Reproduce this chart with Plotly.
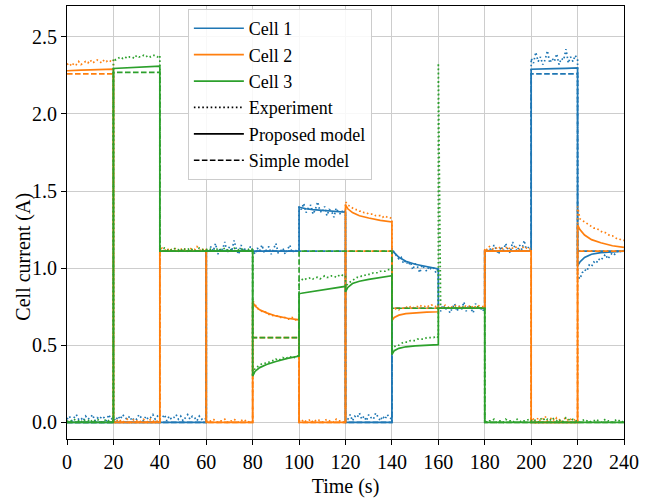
import plotly.graph_objects as go

# ---------------- data ----------------
seg_starts = [0, 20, 40, 60, 80, 100, 120, 140, 160, 180, 200, 220]
seg_len = 20
exp_offsets = list(range(21))          # experiment sampled every 1 s in each 20 s step
model_offsets = [0, 1, 3, 6, 10, 15, 20]  # points

cells = ["Cell 1", "Cell 2", "Cell 3"]
colors = ["#1f77b4", "#ff7f0e", "#2ca02c"]

# Experiment (per 20 s segment, 21 samples)
exp_cell1 = [
    [0.02,0.04,0.01,0.03,0.05,0.02,0.03,0.01,0.04,0.02,0.03,0.05,0.01,0.03,0.02,0.04,0.03,0.01,0.05,0.02,0.03],
    [0.03,0.01,0.04,0.02,0.05,0.03,0.02,0.04,0.01,0.03,0.02,0.05,0.03,0.01,0.04,0.02,0.03,0.05,0.02,0.04,0.02],
    [0.02,0.03,0.05,0.01,0.04,0.02,0.03,0.05,0.02,0.04,0.01,0.03,0.05,0.02,0.04,0.03,0.01,0.04,0.02,0.03,0.02],
    [1.12,1.10,1.14,1.11,1.16,1.09,1.13,1.12,1.17,1.10,1.14,1.11,1.18,1.12,1.09,1.15,1.11,1.13,1.10,1.14,1.12],
    [1.12,1.09,1.13,1.11,1.15,1.10,1.12,1.14,1.09,1.12,1.16,1.10,1.11,1.13,1.09,1.12,1.15,1.10,1.12,1.11,1.12],
    [1.40,1.38,1.42,1.36,1.39,1.41,1.35,1.38,1.43,1.37,1.36,1.40,1.34,1.38,1.37,1.33,1.39,1.36,1.35,1.38,1.36],
    [0.03,0.02,0.05,0.01,0.04,0.03,0.06,0.02,0.04,0.01,0.05,0.03,0.02,0.06,0.03,0.01,0.04,0.02,0.05,0.03,0.02],
    [1.13,1.10,1.08,1.06,1.07,1.03,1.05,1.02,1.04,0.99,1.03,1.01,0.97,1.02,1.00,0.98,1.01,0.99,1.00,0.97,1.00],
    [0.74,0.72,0.76,0.73,0.75,0.71,0.74,0.77,0.72,0.75,0.73,0.78,0.72,0.76,0.74,0.71,0.77,0.73,0.75,0.72,0.74],
    [1.12,1.10,1.13,1.11,1.15,1.12,1.09,1.14,1.11,1.16,1.12,1.10,1.17,1.13,1.11,1.15,1.12,1.18,1.11,1.14,1.12],
    [2.36,2.33,2.40,2.34,2.37,2.32,2.35,2.41,2.33,2.36,2.34,2.39,2.32,2.36,2.35,2.42,2.33,2.37,2.34,2.38,2.35],
    [0.95,0.93,0.97,0.99,0.98,1.02,1.01,1.04,1.03,1.06,1.05,1.07,1.09,1.06,1.08,1.10,1.09,1.11,1.10,1.12,1.11],
]
exp_cell2 = [
    [2.32,2.33,2.31,2.33,2.32,2.34,2.32,2.33,2.34,2.33,2.35,2.33,2.34,2.35,2.34,2.33,2.35,2.34,2.35,2.34,2.35],
    [0.01,0.00,0.02,0.01,0.00,0.01,0.02,0.00,0.01,0.02,0.01,0.00,0.01,0.02,0.01,0.00,0.02,0.01,0.00,0.01,0.01],
    [1.12,1.13,1.12,1.11,1.13,1.12,1.12,1.13,1.11,1.12,1.13,1.12,1.11,1.13,1.12,1.12,1.14,1.12,1.11,1.13,1.12],
    [0.01,0.00,0.01,0.02,0.01,0.00,0.01,0.01,0.02,0.00,0.01,0.01,0.02,0.01,0.00,0.01,0.02,0.01,0.00,0.01,0.01],
    [0.79,0.76,0.74,0.73,0.72,0.72,0.71,0.70,0.70,0.69,0.69,0.69,0.68,0.68,0.68,0.67,0.67,0.68,0.67,0.66,0.665],
    [0.01,0.02,0.00,0.01,0.01,0.02,0.00,0.01,0.02,0.01,0.00,0.01,0.02,0.01,0.01,0.00,0.02,0.01,0.01,0.00,0.01],
    [1.43,1.41,1.40,1.39,1.38,1.38,1.37,1.37,1.36,1.36,1.35,1.35,1.35,1.34,1.34,1.34,1.33,1.34,1.33,1.33,1.32],
    [0.73,0.73,0.74,0.73,0.74,0.74,0.75,0.74,0.75,0.74,0.75,0.75,0.76,0.75,0.75,0.76,0.75,0.76,0.76,0.75,0.76],
    [0.75,0.74,0.75,0.76,0.75,0.74,0.75,0.76,0.75,0.75,0.74,0.76,0.75,0.75,0.76,0.74,0.75,0.76,0.75,0.75,0.75],
    [1.13,1.12,1.14,1.13,1.12,1.13,1.14,1.12,1.13,1.13,1.14,1.12,1.13,1.14,1.13,1.12,1.13,1.14,1.13,1.12,1.13],
    [0.01,0.02,0.00,0.03,0.01,0.02,0.04,0.01,0.02,0.03,0.01,0.03,0.02,0.00,0.02,0.03,0.01,0.02,0.01,0.02,0.01],
    [1.40,1.32,1.31,1.30,1.29,1.28,1.27,1.26,1.26,1.25,1.24,1.23,1.23,1.22,1.21,1.21,1.20,1.19,1.19,1.18,1.18],
]
exp_cell3 = [
    [0.01,0.00,0.01,0.02,0.01,0.01,0.00,0.02,0.01,0.01,0.02,0.00,0.01,0.02,0.01,0.00,0.01,0.02,0.01,0.01,0.01],
    [2.36,2.35,2.36,2.37,2.36,2.37,2.36,2.37,2.37,2.36,2.38,2.37,2.37,2.38,2.37,2.38,2.37,2.38,2.38,2.37,2.38],
    [1.12,1.12,1.13,1.12,1.11,1.12,1.13,1.12,1.12,1.11,1.13,1.12,1.12,1.13,1.12,1.11,1.12,1.13,1.12,1.12,1.12],
    [1.12,1.13,1.12,1.12,1.11,1.13,1.12,1.12,1.13,1.12,1.11,1.12,1.13,1.12,1.12,1.13,1.11,1.12,1.12,1.13,1.12],
    [0.30,0.35,0.36,0.37,0.38,0.38,0.39,0.39,0.40,0.40,0.41,0.40,0.41,0.42,0.41,0.42,0.42,0.43,0.42,0.43,0.435],
    [0.92,0.93,0.92,0.93,0.93,0.94,0.93,0.94,0.94,0.93,0.94,0.95,0.94,0.94,0.95,0.95,0.94,0.95,0.96,0.95,0.95],
    [0.88,0.90,0.91,0.92,0.93,0.94,0.94,0.95,0.95,0.96,0.96,0.96,0.97,0.97,0.97,0.98,0.98,0.98,0.99,0.99,0.99],
    [0.47,0.49,0.50,0.50,0.51,0.52,0.52,0.52,0.53,0.53,0.53,0.54,0.54,0.54,0.54,0.55,0.55,0.55,0.55,0.56,0.55],
    [2.33,0.74,0.75,0.74,0.74,0.75,0.74,0.74,0.75,0.74,0.74,0.75,0.74,0.74,0.75,0.74,0.74,0.75,0.74,0.74,0.74],
    [0.01,0.00,0.01,0.01,0.02,0.00,0.01,0.01,0.00,0.02,0.01,0.01,0.00,0.01,0.02,0.01,0.00,0.01,0.01,0.02,0.01],
    [0.01,0.02,0.01,0.00,0.02,0.03,0.01,0.02,0.01,0.03,0.02,0.01,0.02,0.00,0.01,0.03,0.02,0.01,0.02,0.01,0.01],
    [0.01,0.00,0.01,0.02,0.01,0.00,0.01,0.01,0.02,0.01,0.00,0.01,0.02,0.01,0.01,0.00,0.01,0.02,0.01,0.00,0.01],
]

# Proposed model (values at model_offsets within each segment)
prop_cell1 = [
    [0]*7, [0]*7, [0]*7,
    [1.11]*7, [1.11]*7,
    [1.395,1.39,1.385,1.38,1.375,1.368,1.363],
    [0]*7,
    [1.12,1.10,1.07,1.045,1.025,1.01,0.995],
    [0.74]*7, [1.11]*7,
    [2.29,2.29,2.29,2.292,2.294,2.296,2.298],
    [1.015,1.04,1.07,1.09,1.10,1.107,1.11],
]
prop_cell2 = [
    [2.28,2.28,2.282,2.284,2.286,2.288,2.29],
    [0]*7, [1.11]*7, [0]*7,
    [0.78,0.755,0.73,0.71,0.69,0.675,0.665],
    [0]*7,
    [1.41,1.385,1.36,1.34,1.325,1.31,1.30],
    [0.66,0.68,0.695,0.705,0.71,0.715,0.717],
    [0.74]*7, [1.11]*7, [0]*7,
    [1.28,1.25,1.215,1.185,1.165,1.145,1.135],
]
prop_cell3 = [
    [0]*7,
    [2.295,2.296,2.298,2.30,2.303,2.306,2.31],
    [1.11]*7, [1.11]*7,
    [0.30,0.33,0.355,0.375,0.395,0.415,0.43],
    [0.835,0.837,0.842,0.85,0.86,0.872,0.882],
    [0.846,0.875,0.90,0.915,0.927,0.94,0.951],
    [0.44,0.465,0.48,0.49,0.496,0.501,0.504],
    [0.74]*7, [0]*7, [0]*7, [0]*7,
]

# Simple model (one constant level per segment)
simple_cell1 = [0, 0, 0, 1.11, 1.11, 1.11, 0, 0.74, 0.74, 1.11, 2.26, 1.11]
simple_cell2 = [2.26, 0, 1.11, 0, 0.55, 0, 1.11, 0.74, 0.74, 1.11, 0, 1.11]
simple_cell3 = [0, 2.27, 1.11, 1.11, 0.55, 1.11, 1.11, 0.74, 0.74, 0, 0, 0]

x_ticks = [0, 20, 40, 60, 80, 100, 120, 140, 160, 180, 200, 220, 240]
y_ticks = [0.0, 0.5, 1.0, 1.5, 2.0, 2.5]

# ---------------- helpers ----------------
def stitch(offsets, seg_values):
    xs, ys = [], []
    for t0, vals in zip(seg_starts, seg_values):
        for o, v in zip(offsets, vals):
            xs.append(t0 + o)
            ys.append(v)
    return xs, ys

def steps(levels):
    xs, ys = [], []
    for t0, v in zip(seg_starts, levels):
        xs += [t0, t0 + seg_len]
        ys += [v, v]
    return xs, ys

LW = 1.7
DOT = "1.6px,2.6px"
DASH = "5.6px,2.4px"

fig = go.Figure()
all_exp = [exp_cell1, exp_cell2, exp_cell3]
all_prop = [prop_cell1, prop_cell2, prop_cell3]
all_simple = [simple_cell1, simple_cell2, simple_cell3]

for i in range(3):
    xe, ye = stitch(exp_offsets, all_exp[i])
    fig.add_trace(go.Scatter(x=xe, y=ye, mode="lines", showlegend=False,
                             line=dict(color=colors[i], width=LW, dash=DOT)))
    xp, yp = stitch(model_offsets, all_prop[i])
    fig.add_trace(go.Scatter(x=xp, y=yp, mode="lines", showlegend=False,
                             line=dict(color=colors[i], width=LW)))
    xs, ys = steps(all_simple[i])
    fig.add_trace(go.Scatter(x=xs, y=ys, mode="lines", showlegend=False,
                             line=dict(color=colors[i], width=LW, dash=DASH)))

# legend proxies
legend_items = [(cells[0], colors[0], "solid"), (cells[1], colors[1], "solid"),
                (cells[2], colors[2], "solid"), ("Experiment", "black", DOT),
                ("Proposed model", "black", "solid"), ("Simple model", "black", DASH)]
for k, (name, c, d) in enumerate(legend_items):
    fig.add_trace(go.Scatter(x=[None], y=[None], mode="lines", name=name,
                             legendgroup=f"g{k}",
                             line=dict(color=c, width=LW, dash=d)))

font_family = "Liberation Serif, Times New Roman, serif"
fig.update_layout(
    width=652, height=498,
    margin=dict(l=67, r=28, t=5, b=49),
    paper_bgcolor="white", plot_bgcolor="white",
    font=dict(family=font_family, size=20, color="black"),
    showlegend=True,
    legend=dict(x=0.217, y=0.993, xanchor="left", yanchor="top",
                font=dict(family=font_family, size=18, color="black"),
                bgcolor="rgba(255,255,255,0.85)", bordercolor="#cccccc",
                borderwidth=1, tracegroupgap=0, traceorder="grouped",
                itemwidth=50),
    xaxis=dict(range=[0, 240], tickvals=x_ticks, showgrid=True, gridcolor="#cdcdcd",
               gridwidth=1, zeroline=False, showline=True, linecolor="black",
               linewidth=1, mirror=True, ticks="outside", ticklen=5, tickwidth=1,
               tickcolor="black", tickfont=dict(size=20),
               title=dict(text="Time (s)", font=dict(size=20), standoff=6)),
    yaxis=dict(range=[-0.108, 2.70], tickvals=y_ticks, tickformat=".1f",
               showgrid=True, gridcolor="#cdcdcd", gridwidth=1, zeroline=False,
               showline=True, linecolor="black", linewidth=1, mirror=True,
               ticks="outside", ticklen=5, tickwidth=1, tickcolor="black",
               tickfont=dict(size=20)),
    annotations=[dict(text="Cell current (A)", textangle=-90, xref="paper", yref="paper",
                      x=(24 - 67) / 557, y=1 - (262 - 5) / 444, xanchor="center",
                      yanchor="middle", showarrow=False, font=dict(size=20))],
)

fig.write_html("out.html")
